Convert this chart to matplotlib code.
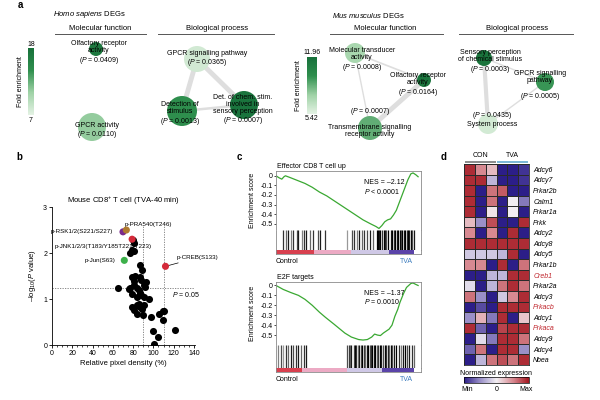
import numpy as np
import matplotlib
matplotlib.use("Agg")
import matplotlib.pyplot as plt
from matplotlib.colors import LinearSegmentedColormap, Normalize
from matplotlib.cm import ScalarMappable

plt.rcParams['font.family'] = ['Liberation Sans', 'DejaVu Sans']
plt.rcParams['mathtext.fontset'] = 'custom'
plt.rcParams['mathtext.rm'] = 'Liberation Sans'
plt.rcParams['mathtext.it'] = 'Liberation Sans:italic'
plt.rcParams['font.size'] = 5
plt.rcParams['axes.linewidth'] = 0.6

# ---- panel a: GO networks ----
homo_mf_labels = ['Olfactory receptor\nactivity\n($\\it{P}$ = 0.0409)', 'GPCR activity\n($\\it{P}$ = 0.0110)']
homo_mf_fold = [17.0, 11.0]
homo_bp_labels = ['GPCR signalling pathway\n($\\it{P}$ = 0.0365)',
                  'Detection of\nstimulus\n($\\it{P}$ = 0.0013)',
                  'Det. of chem. stim.\ninvolved in\nsensory perception\n($\\it{P}$ = 0.0007)']
homo_bp_fold = [8.0, 14.5, 17.5]
homo_bp_edges = [(0, 1), (0, 2), (1, 2)]
homo_bp_edge_w = [3.5, 3.5, 1.8]
homo_range = (7, 18)

mus_mf_labels = ['Molecular transducer\nactivity\n($\\it{P}$ = 0.0008)',
                 'Olfactory receptor\nactivity\n($\\it{P}$ = 0.0164)',
                 '($\\it{P}$ = 0.0007)\n\nTransmembrane signalling\nreceptor activity']
mus_mf_fold = [7.3, 11.6, 8.8]
mus_mf_edges = [(0, 1), (0, 2), (1, 2)]
mus_mf_edge_w = [1.2, 1.0, 3.5]
mus_bp_labels = ['Sensory perception\nof chemical stimulus\n($\\it{P}$ = 0.0003)',
                 'GPCR signalling\npathway\n\n($\\it{P}$ = 0.0005)',
                 '($\\it{P}$ = 0.0435)\nSystem process']
mus_bp_fold = [11.7, 9.6, 6.0]
mus_bp_edges = [(0, 1), (0, 2), (1, 2)]
mus_bp_edge_w = [1.0, 3.0, 1.0]
mus_range = (5.42, 11.96)

# layout of nodes (pixel canvas)
homo_mf_xy = [(96, 49), (92, 127)]
homo_mf_r = [7, 14]
homo_mf_txt = [(99, 53), (97, 131)]
homo_bp_xy = [(197, 59), (182, 111), (244, 105)]
homo_bp_r = [13, 15, 14]
homo_bp_txt = [(207, 59), (180, 114), (243, 110)]
mus_mf_xy = [(355, 53), (424, 80), (370, 128)]
mus_mf_r = [10, 7, 12]
mus_mf_txt = [(362, 60), (418, 85), (370, 122)]
mus_bp_xy = [(484, 58), (545, 82), (488, 124)]
mus_bp_r = [8, 9, 10]
mus_bp_txt = [(490, 62), (540, 86), (492, 119)]

# ---- panel b ----
b_x = [64.7, 79.5, 80.5, 78.9, 77.2, 81.2, 87.0, 88.8, 78.9, 80.5, 87.1, 87.8, 77.2, 83.9,
       85.4, 90.4, 93.0, 92.0, 87.1, 83.9, 91.0, 95.4, 78.9, 80.5, 87.1, 88.8, 90.4, 83.9,
       89.8, 110.9, 97.7, 99.7, 100.3, 105.2, 104.6, 109.6, 109.2, 121.0, 76.0, 79.0, 81.0,
       86.0, 82.0, 84.0, 88.0]
b_y = [1.24, 2.28, 2.22, 2.06, 2.0, 2.04, 1.73, 1.62, 1.47, 1.39, 1.47, 1.41, 1.24, 1.25,
       1.19, 1.31, 1.37, 1.26, 1.12, 1.04, 1.04, 1.01, 0.83, 0.77, 0.83, 0.78, 0.86, 0.68,
       0.65, 0.74, 0.61, 0.3, 0.03, 0.68, 0.17, 0.74, 0.54, 0.33, 1.22, 1.1, 1.3,
       0.9, 1.5, 0.87, 1.08]
hl_names = ['p-RSK1/2(S221/S227)', 'p-PRA540(T246)', 'p-JNK1/2/3(T183/Y185T221/Y223)',
            'p-Jun(S63)', 'p-CREB(S133)']
hl_x = [70.0, 73.3, 79.0, 71.3, 111.9]
hl_y = [2.46, 2.5, 2.3, 1.84, 1.71]
hl_colors = ['#7a2a8c', '#b07a2e', '#d42a3a', '#3cb04a', '#d42a3a']

# ---- panel c ----
c1_x = [0, 0.02, 0.04, 0.055, 0.065, 0.1, 0.15, 0.2, 0.25, 0.3, 0.35, 0.4, 0.45, 0.5, 0.55,
        0.6, 0.65, 0.69, 0.71, 0.73, 0.75, 0.77, 0.79, 0.81, 0.83, 0.85, 0.87, 0.89, 0.91,
        0.93, 0.945, 0.965, 0.98]
c1_y = [0, -0.02, -0.035, -0.01, 0.0, -0.02, -0.05, -0.08, -0.12, -0.17, -0.21, -0.26, -0.31,
        -0.36, -0.41, -0.46, -0.5, -0.53, -0.55, -0.52, -0.48, -0.46, -0.45, -0.41, -0.36,
        -0.28, -0.2, -0.12, -0.04, 0.02, 0.03, 0.01, -0.01]
c2_x = [0, 0.05, 0.1, 0.155, 0.2, 0.25, 0.3, 0.34, 0.4, 0.45, 0.475, 0.52, 0.57, 0.6, 0.63,
        0.66, 0.68, 0.7, 0.72, 0.74, 0.76, 0.78, 0.8, 0.82, 0.84, 0.855, 0.88, 0.9, 0.93,
        0.945, 0.965, 0.98]
c2_y = [0, -0.04, -0.07, -0.1, -0.14, -0.2, -0.27, -0.32, -0.39, -0.45, -0.48, -0.52, -0.545,
        -0.55, -0.545, -0.52, -0.49, -0.5, -0.505, -0.48, -0.46, -0.44, -0.4, -0.31, -0.24,
        -0.17, -0.08, -0.02, 0.02, 0.025, 0.01, 0.0]
c1_hits = [0.05, 0.067, 0.08, 0.103, 0.12, 0.143, 0.154, 0.177, 0.195, 0.21, 0.234, 0.257,
           0.29, 0.303, 0.338, 0.487, 0.522, 0.54, 0.556, 0.572, 0.59, 0.61, 0.625, 0.648,
           0.67, 0.695, 0.703, 0.71, 0.717, 0.73, 0.742, 0.75, 0.762, 0.775, 0.79, 0.8,
           0.812, 0.82, 0.832, 0.843, 0.855, 0.865, 0.872, 0.88, 0.89, 0.9, 0.91, 0.92,
           0.93, 0.94, 0.95]
c1_shade = [0.2, 0.4, 0.1, 0.5, 0.2, 0.3, 0.1, 0.5, 0.2, 0.1, 0.4, 0.2, 0.3, 0.1, 0.2, 0.6,
            0.3, 0.2, 0.5, 0.1, 0.4, 0.2, 0.3, 0.1, 0.4, 0.0, 0.0, 0.1, 0.0, 0.2, 0.0, 0.1,
            0.3, 0.0, 0.1, 0.0, 0.2, 0.0, 0.1, 0.0, 0.0, 0.3, 0.0, 0.1, 0.0, 0.2, 0.0, 0.1,
            0.0, 0.3, 0.1]
c2_hits = [0.016, 0.034, 0.05, 0.067, 0.085, 0.103, 0.12, 0.136, 0.154, 0.172, 0.195, 0.21,
           0.49, 0.5, 0.51, 0.52, 0.535, 0.545, 0.555, 0.565, 0.575, 0.585, 0.595, 0.605,
           0.615, 0.625, 0.635, 0.645, 0.655, 0.665, 0.675, 0.685, 0.695, 0.705, 0.715,
           0.725, 0.74, 0.75, 0.76, 0.77, 0.78, 0.79, 0.8, 0.815, 0.83, 0.845, 0.86, 0.875,
           0.89, 0.905, 0.92, 0.935, 0.95]
c2_shade = [0.5, 0.3, 0.6, 0.2, 0.4, 0.1, 0.3, 0.2, 0.1, 0.4, 0.2, 0.1,
            0.3, 0.2, 0.4, 0.1, 0.3, 0.0, 0.2, 0.5, 0.1, 0.3, 0.0, 0.2, 0.4, 0.1, 0.0,
            0.3, 0.2, 0.0, 0.1, 0.0, 0.4, 0.2, 0.0, 0.1, 0.3, 0.0, 0.2, 0.1, 0.4, 0.0,
            0.3, 0.1, 0.0, 0.2, 0.5, 0.1, 0.0, 0.3, 0.1, 0.2, 0.4]
c1_band = [0.0, 0.26, 0.52, 0.78, 0.95, 1.0]
c2_band = [0.0, 0.18, 0.49, 0.73, 0.95, 1.0]
band_colors = ['#d8404f', '#ecaac4', '#cfc8e6', '#5a43a8', '#ffffff']

# ---- panel d ----
genes = ['Adcy6', 'Adcy7', 'Prkar2b', 'Calm1', 'Prkar1a', 'Prkk', 'Adcy2', 'Adcy8', 'Adcy5',
         'Prkar1b', 'Creb1', 'Prkar2a', 'Adcy3', 'Prkacb', 'Adcy1', 'Prkaca', 'Adcy9',
         'Adcy4', 'Nbea']
red_genes = ['Creb1', 'Prkacb', 'Prkaca']
heat = np.array([
    [0.9, 0.5, 0.25, -1.0, -1.0, -0.9],
    [0.9, 0.9, -0.3, -1.0, -1.0, -0.9],
    [0.9, -1.0, 0.6, 0.7, -1.0, -1.0],
    [0.9, -1.0, 0.6, -1.0, 0.0, -0.6],
    [0.9, -1.0, 0.05, -1.0, 0.0, -1.0],
    [0.25, -0.5, 0.75, -1.0, -1.0, 0.9],
    [0.5, -1.0, 0.5, -1.0, 0.9, -1.0],
    [0.9, 0.9, 0.9, 0.9, 0.9, 0.9],
    [-0.2, -0.2, -0.2, -0.3, 0.9, -1.0],
    [0.5, 0.5, -1.0, 0.9, -1.0, 0.6],
    [-1.0, -1.0, -0.3, -0.3, 0.9, 0.9],
    [-0.1, -1.0, -0.3, 0.6, 0.9, 0.6],
    [0.6, -0.5, -1.0, -0.2, 0.5, 0.9],
    [-1.0, -0.8, -1.0, 0.9, 0.9, 0.9],
    [-0.5, 0.3, -0.6, 0.9, -1.0, 0.2],
    [0.9, -0.7, -1.0, 0.8, 0.9, 0.9],
    [-1.0, -0.1, -0.6, 0.9, 0.9, 0.6],
    [-0.7, 0.6, -1.0, 0.9, 0.9, -0.5],
    [-1.0, -0.3, 0.6, 0.75, 0.6, 0.9],
])
groups = ['CON', 'TVA']

W, H = 600, 400
fig = plt.figure(figsize=(6, 4), dpi=100)


def px_axes(l, t, r, b):
    return fig.add_axes([l / W, 1 - b / H, (r - l) / W, (b - t) / H])


# overlay canvas for panel a and free text
ov = fig.add_axes([0, 0, 1, 1], zorder=10)
ov.set_xlim(0, W)
ov.set_ylim(H, 0)
ov.axis('off')
ov.patch.set_alpha(0)

green = LinearSegmentedColormap.from_list('fe', ['#e4f2e4', '#9fd2a6', '#2f8f4e', '#17703a'])


def network(xy, r, fold, labels, txt, rng, edges=(), widths=()):
    norm = Normalize(*rng)
    for (i, j), w in zip(edges, widths):
        ov.plot([xy[i][0], xy[j][0]], [xy[i][1], xy[j][1]], color='#dedede', lw=w,
                solid_capstyle='round', zorder=1)
    xs = [p[0] for p in xy]
    ys = [p[1] for p in xy]
    ov.scatter(xs, ys, s=[(2 * rr * 0.72) ** 2 for rr in r], c=fold, cmap=green, norm=norm,
               linewidths=0, zorder=2)
    for (tx, ty), s in zip(txt, labels):
        ov.text(tx, ty, s, ha='center', va='center', fontsize=5, linespacing=1.05, zorder=3)


network(homo_mf_xy, homo_mf_r, homo_mf_fold, homo_mf_labels, homo_mf_txt, homo_range)
network(homo_bp_xy, homo_bp_r, homo_bp_fold, homo_bp_labels, homo_bp_txt, homo_range,
        homo_bp_edges, homo_bp_edge_w)
network(mus_mf_xy, mus_mf_r, mus_mf_fold, mus_mf_labels, mus_mf_txt, mus_range,
        mus_mf_edges, mus_mf_edge_w)
network(mus_bp_xy, mus_bp_r, mus_bp_fold, mus_bp_labels, mus_bp_txt, mus_range,
        mus_bp_edges, mus_bp_edge_w)

for x, t in [(18, 'a'), (16, 'b'), (237, 'c'), (441, 'd')]:
    ov.text(x, 5 if t == 'a' else 157, t, fontsize=7, fontweight='bold', va='center')
ov.text(53, 15, '$\\it{Homo\\ sapiens}$ DEGs', fontsize=5.5, va='center')
ov.text(332, 15, '$\\it{Mus\\ musculus}$ DEGs', fontsize=5.5, va='center')
for cx, l, r, s in [(100, 55, 146, 'Molecular function'), (217, 158, 274, 'Biological process'),
                    (385, 330, 443, 'Molecular function'), (517, 459, 573, 'Biological process')]:
    ov.text(cx, 29, s, ha='center', va='center', fontsize=5.5)
    ov.plot([l, r], [34, 34], color='#555555', lw=0.7)

for (l, t, r, b), rng, lab, fx in [((28, 48, 34, 115), homo_range, ('18', '7'), 21),
                                    ((307, 57, 317, 114), mus_range, ('11.96', '5.42'), 298)]:
    cax = px_axes(l, t, r, b)
    cb = fig.colorbar(ScalarMappable(Normalize(*rng), green), cax=cax)
    cb.set_ticks([])
    cb.outline.set_visible(False)
    ov.text((l + r) / 2, t - 4, lab[0], ha='center', va='center', fontsize=5)
    ov.text((l + r) / 2, b + 5, lab[1], ha='center', va='center', fontsize=5)
    ov.text(fx, (t + b) / 2, 'Fold enrichment', rotation=90, ha='center', va='center', fontsize=5)

# ---- panel b ----
axb = px_axes(52, 207, 195, 345)
axb.scatter(b_x, b_y, s=26, color='black', linewidths=0, zorder=3)
axb.scatter(hl_x, hl_y, s=26, c=hl_colors, linewidths=0, zorder=4)
axb.axhline(1.25, color='#777777', lw=0.6, ls=(0, (1.5, 1.5)), zorder=1)
for v in (90, 110):
    axb.plot([v, v], [0, 2.6], color='#777777', lw=0.6, ls=(0, (1.5, 1.5)), zorder=1)
axb.set_xlim(0, 141)
axb.set_ylim(0, 3)
axb.set_xticks(range(0, 141, 20))
axb.set_xticks(range(0, 141, 5), minor=True)
axb.set_yticks([0, 1, 2, 3])
axb.tick_params(labelsize=5, length=2, width=0.6, pad=1.5)
axb.tick_params(which='minor', length=1.2, width=0.5)
for s in ('top', 'right'):
    axb.spines[s].set_visible(False)
axb.set_xlabel('Relative pixel density (%)', fontsize=5.5, labelpad=2)
axb.set_ylabel('–log$_{10}$($\\it{P}$ value)', fontsize=5.5, labelpad=4)
axb.set_title('Mouse CD8$^{+}$ T cell (TVA-40 min)', fontsize=5.5, pad=2)
axb.text(60, 2.47, hl_names[0], ha='right', va='center', fontsize=4.5)
axb.text(72, 2.62, hl_names[1], ha='left', va='center', fontsize=4.5)
axb.text(50, 2.14, hl_names[2], ha='center', va='center', fontsize=4.5)
axb.text(63, 1.84, hl_names[3], ha='right', va='center', fontsize=4.5)
axb.annotate(hl_names[4], xy=(hl_x[4], hl_y[4]), xytext=(123, 1.9), fontsize=4.5, va='center',
             annotation_clip=False,
             arrowprops=dict(arrowstyle='-', color='black', lw=0.5, shrinkA=0, shrinkB=2))
axb.text(118, 1.1, '$\\it{P}$ = 0.05', fontsize=5, va='center')

# ---- panel c ----
frame = '#8a8a8a'


def gsea(top, cut, bar, bottom, cx, cy, ylim, hits, shade, band, title, nes, pval, nes_y):
    ax = px_axes(276, top, 421, cut)
    ax.plot(cx, cy, color='#3aa832', lw=0.9)
    ax.set_xlim(0, 1)
    ax.set_ylim(*ylim)
    ax.set_xticks([])
    ax.set_yticks([0, -0.1, -0.2, -0.3, -0.4, -0.5])
    ax.set_yticklabels(['0', '-0.1', '-0.2', '-0.3', '-0.4', '-0.5'])
    ax.tick_params(labelsize=5, length=1.5, width=0.5, pad=1)
    for s in ax.spines.values():
        s.set_color(frame)
        s.set_linewidth(0.6)
    ax.spines['bottom'].set_color('#cccccc')
    ax.text(0.61, nes_y, nes + '\n' + pval, transform=ax.transAxes, fontsize=5, va='top',
            linespacing=1.1)
    ax.text(0.01, 1.02, title, transform=ax.transAxes, fontsize=5, va='bottom')
    ax.set_ylabel('Enrichment score', fontsize=5, labelpad=3)

    axh = px_axes(276, cut, 421, bar)
    axh.vlines(hits, 0, 1, colors=[str(g) for g in shade], lw=0.9)
    axh.set_xlim(0, 1)
    axh.set_ylim(0, 1)
    axh.set_xticks([])
    axh.set_yticks([])
    for s in ('top', 'bottom'):
        axh.spines[s].set_visible(False)
    for s in ('left', 'right'):
        axh.spines[s].set_color(frame)
        axh.spines[s].set_linewidth(0.6)

    axr = px_axes(276, bar, 421, bottom)
    for k in range(len(band) - 1):
        axr.axvspan(band[k], band[k + 1], color=band_colors[k], lw=0)
    axr.set_xlim(0, 1)
    axr.set_xticks([])
    axr.set_yticks([])
    for s in axr.spines.values():
        s.set_color(frame)
        s.set_linewidth(0.6)
    axr.spines['top'].set_visible(False)
    axr.text(0.0, -1.0, 'Control', transform=axr.transAxes, fontsize=5, va='top')
    axr.text(0.945, -1.0, 'TVA', transform=axr.transAxes, fontsize=5, va='top', ha='right',
             color='#3a7bbd')


gsea(171, 230, 250, 254, c1_x, c1_y, (-0.566, 0.05), c1_hits, c1_shade, c1_band,
     'Effector CD8 T cell up', 'NES = –2.12', '$\\it{P}$ < 0.0001', 0.86)
gsea(282, 345, 368, 372, c2_x, c2_y, (-0.6, 0.035), c2_hits, c2_shade, c2_band,
     'E2F targets', 'NES = –1.37', '$\\it{P}$ = 0.0010', 0.88)

# ---- panel d ----
heat_cmap = LinearSegmentedColormap.from_list('ne', ['#2c1e88', '#9a90c8', '#f2eef2',
                                                     '#d88a92', '#a3161f'])
axd = px_axes(464, 164, 529, 365)
axd.pcolormesh(heat, cmap=heat_cmap, vmin=-1, vmax=1, edgecolors='#2a2a2a', linewidth=0.5)
axd.set_xlim(0, heat.shape[1])
axd.set_ylim(heat.shape[0], 0)
axd.set_xticks([])
axd.yaxis.tick_right()
axd.set_yticks(np.arange(len(genes)) + 0.5)
axd.set_yticklabels(genes, fontsize=5, style='italic')
for lbl in axd.get_yticklabels():
    if lbl.get_text() in red_genes:
        lbl.set_color('#c0262d')
axd.tick_params(length=0, pad=3)
for s in axd.spines.values():
    s.set_color('#2a2a2a')
    s.set_linewidth(0.6)
for k, (g, c) in enumerate(zip(groups, ['#8a8a8a', '#7ab6d6'])):
    axd.plot([3 * k + 0.05, 3 * k + 2.95], [-0.22, -0.22], color=c, lw=1.4, clip_on=False,
             solid_capstyle='butt')
    axd.text(3 * k + 1.5, -0.85, g, ha='center', va='center', fontsize=5)

caxd = px_axes(464, 377, 529, 383)
cbd = fig.colorbar(ScalarMappable(Normalize(-1, 1), heat_cmap), cax=caxd, orientation='horizontal')
cbd.set_ticks([-0.9, 0, 0.9])
cbd.set_ticklabels(['Min', '0', 'Max'])
caxd.tick_params(length=0, labelsize=5, pad=2)
cbd.outline.set_linewidth(0.5)
caxd.set_title('Normalized expression', fontsize=5, pad=1.5)

fig.savefig('out.png', dpi=100)
